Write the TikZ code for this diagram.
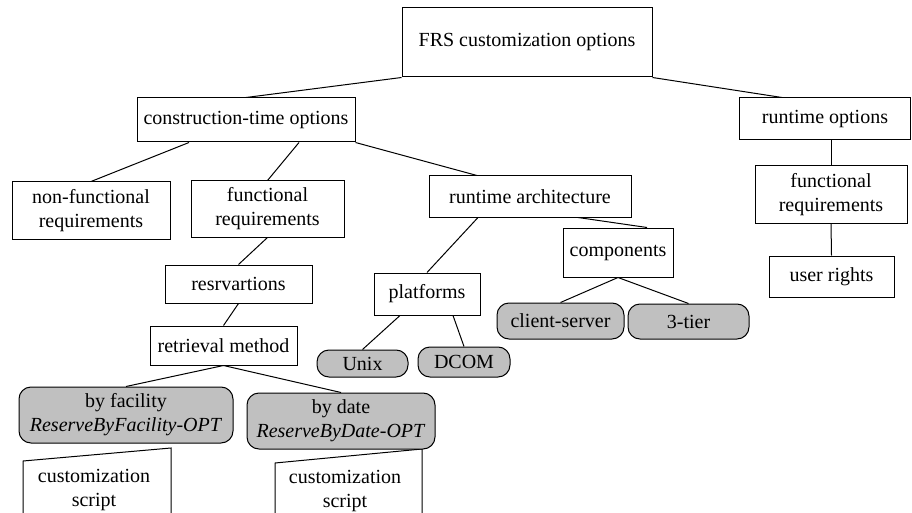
\documentclass[tikz,border=0pt]{standalone}
\usepackage{fontspec}
\setmainfont{Liberation Serif}
\definecolor{boxgray}{RGB}{192,192,192}
\begin{document}
\begin{tikzpicture}[x=1pt,y=-1pt,
  box/.style={draw, line width=1pt, inner sep=0pt, align=center, fill=white,
    font=\fontsize{20}{24}\selectfont},
  gbox/.style={box, fill=boxgray, rounded corners=12pt},
  conn/.style={line width=1pt},
  txt/.style={inner sep=0pt, align=center, font=\fontsize{20}{24}\selectfont}]
\useasboundingbox (0,0) rectangle (912,513);
\begin{scope}
\clip (0,0) rectangle (912,513);
% customization script shapes (cut off at bottom)
\draw[conn] (23,520) -- (23,461) -- (171,448) -- (171,520);
\draw[conn] (275,520) -- (275,463) -- (422,449) -- (422,520);
\end{scope}
\node[txt] (cs1) at (94,490) {customization\\script};
\node[txt] (cs2) at (345,491) {customization\\script};

\node[box, minimum width=250pt, minimum height=69pt] (frs) at (527,42.5) {FRS customization options};
\node[box, minimum width=218pt, minimum height=44pt] (cto) at (246,120) {construction-time options};
\node[box, minimum width=171pt, minimum height=42pt] (rto) at (825,119) {runtime options};
\node[box, minimum width=158pt, minimum height=57pt] (nfr) at (91,210.5) {non-functional\\requirements};
\node[box, minimum width=153pt, minimum height=56pt] (frl) at (267.5,209) {functional\\requirements};
\node[box, minimum width=202pt, minimum height=41pt] (rta) at (530,196.5) {runtime architecture};
\node[box, minimum width=152pt, minimum height=57pt] (frr) at (831,194.5) {functional\\requirements};
\node[box, minimum width=110pt, minimum height=49pt] (comp) at (618,252.5) {components};
\node[box, minimum width=125pt, minimum height=41pt] (ur) at (831.5,276.5) {user rights};
\node[box, minimum width=147pt, minimum height=38pt] (resv) at (238.5,284) {resrvartions};
\node[box, minimum width=106pt, minimum height=42pt] (plat) at (427,294) {platforms};
\node[gbox, minimum width=127pt, minimum height=36pt] (cs) at (560.5,321) {client-server};
\node[gbox, minimum width=121pt, minimum height=35pt] (tier) at (688.5,321.5) {3-tier};
\node[box, minimum width=147pt, minimum height=39pt] (ret) at (223.5,345.5) {retrieval method};
\node[gbox, minimum width=91pt, minimum height=27pt] (unix) at (362.5,363.5) {Unix};
\node[gbox, minimum width=92pt, minimum height=30pt] (dcom) at (464,362) {DCOM};
\node[gbox, minimum width=214pt, minimum height=56pt] (fac) at (126,415) {by facility\\\textit{ReserveByFacility-OPT}};
\node[gbox, minimum width=188pt, minimum height=56pt] (date) at (341,421) {by date\\\textit{ReserveByDate-OPT}};

\draw[conn] (frs.south west) -- (cto.north);
\draw[conn] (frs.south east) -- ([xshift=-43pt]rto.north);
\draw[conn] ([xshift=-57pt]cto.south) -- (nfr.north);
\draw[conn] ([xshift=53pt]cto.south) -- (frl.north);
\draw[conn] (cto.south east) -- ([xshift=-53pt]rta.north);
\draw[conn] (frr.north) -- (frr.north |- rto.south);
\draw[conn] (frr.south) -- (ur.north);
\draw[conn] ([xshift=48pt]rta.south) -- ([xshift=29pt]comp.north);
\draw[conn] ([xshift=-52pt]rta.south) -- (plat.north);
\draw[conn] (frl.south) -- (resv.north);
\draw[conn] (resv.south) -- (ret.north);
\draw[conn] (ret.south) -- (fac.north);
\draw[conn] (ret.south) -- (date.north);
\draw[conn] ([xshift=-27pt]plat.south) -- (unix.north);
\draw[conn] ([xshift=26pt]plat.south) -- (dcom.north);
\draw[conn] (comp.south) -- (cs.north);
\draw[conn] (comp.south) -- (tier.north);
\end{tikzpicture}
\end{document}
